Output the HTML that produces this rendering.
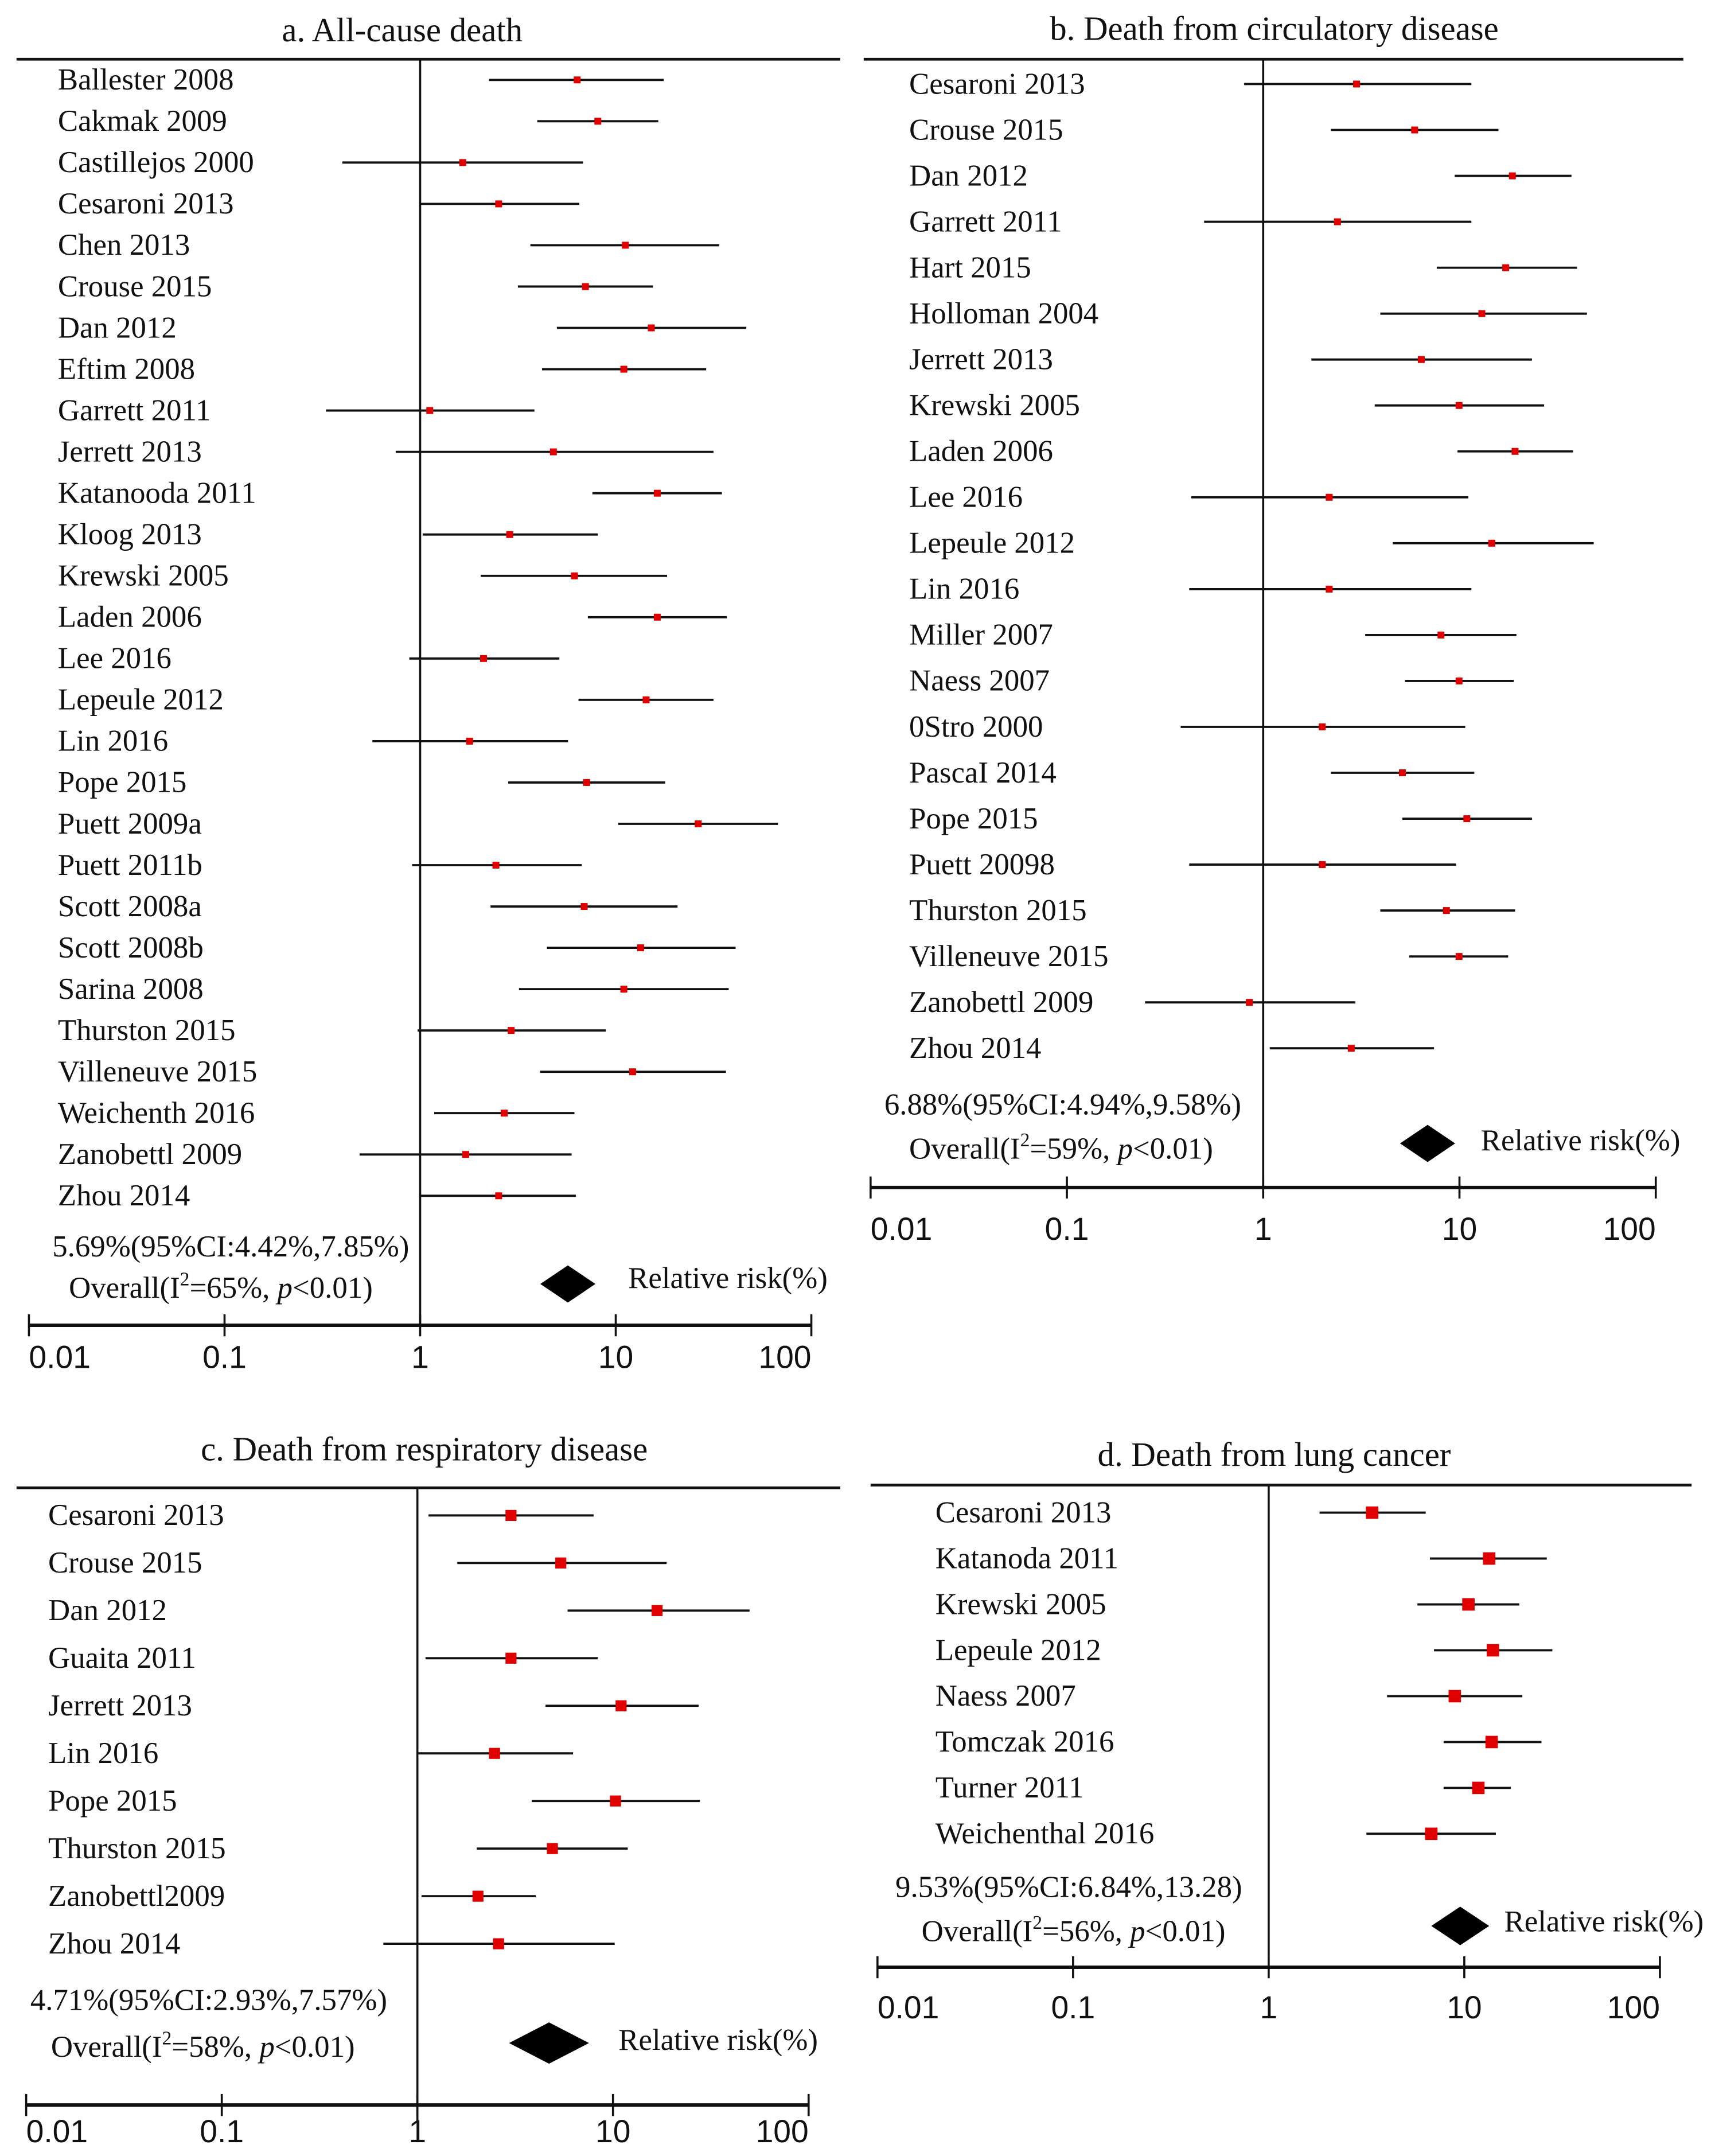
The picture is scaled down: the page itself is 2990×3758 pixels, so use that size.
<!DOCTYPE html>
<html><head><meta charset="utf-8"><style>
html,body{margin:0;padding:0;background:#fff;}
svg{display:block;}
.lbl{font-family:"Liberation Serif",serif;font-size:22px;fill:#111;}
.ttl{font-family:"Liberation Serif",serif;font-size:24.5px;fill:#111;}
.tick{font-family:"Liberation Sans",sans-serif;font-size:23px;fill:#111;}
</style></head><body>
<svg id="chart" width="2990" height="3758" viewBox="0 0 1245 1565" preserveAspectRatio="none" xmlns="http://www.w3.org/2000/svg"></svg>
<script>
// Panel a: All-cause death
const aStudies=["Ballester 2008","Cakmak 2009","Castillejos 2000","Cesaroni 2013","Chen 2013","Crouse 2015","Dan 2012","Eftim 2008","Garrett 2011","Jerrett 2013","Katanooda 2011","Kloog 2013","Krewski 2005","Laden 2006","Lee 2016","Lepeule 2012","Lin 2016","Pope 2015","Puett 2009a","Puett 2011b","Scott 2008a","Scott 2008b","Sarina 2008","Thurston 2015","Villeneuve 2015","Weichenth 2016","Zanobettl 2009","Zhou 2014"];
const aRR=[6.35,8.1,1.65,2.52,11.2,7.0,15.2,11,1.12,4.8,16.3,2.87,6.15,16.3,2.11,14.3,1.79,7.1,26.4,2.44,6.9,13.4,11,2.92,12.2,2.69,1.71,2.52];
const aLow=[2.25,3.97,0.4,1.0,3.66,3.16,5,4.2,0.33,0.75,7.6,1.03,2.04,7.2,0.88,6.45,0.57,2.82,10.3,0.91,2.29,4.45,3.2,0.97,4.1,1.18,0.49,1.0];
const aHigh=[17.6,16.5,6.8,6.5,33.8,15.5,46.5,29,3.84,31.6,34.9,8.1,18.3,37,5.15,31.6,5.7,17.9,67.5,6.7,20.7,41,37.8,8.9,36.6,6.15,5.95,6.25];
// Panel b: circulatory disease
const bStudies=["Cesaroni 2013","Crouse 2015","Dan 2012","Garrett 2011","Hart 2015","Holloman 2004","Jerrett 2013","Krewski 2005","Laden 2006","Lee 2016","Lepeule 2012","Lin 2016","Miller 2007","Naess 2007","0Stro 2000","PascaI 2014","Pope 2015","Puett 20098","Thurston 2015","Villeneuve 2015","Zanobettl 2009","Zhou 2014"];
const bRR=[2.99,5.91,18.6,2.39,17.2,13.0,6.39,9.95,19.2,2.17,14.6,2.17,8.05,9.95,2.0,5.12,10.9,2.0,8.58,9.95,0.85,2.81];
const bLow=[0.8,2.21,9.45,0.5,7.66,3.95,1.76,3.7,9.77,0.43,4.57,0.42,3.31,5.28,0.38,2.21,5.12,0.42,3.95,5.54,0.25,1.08];
const bHigh=[11.5,15.8,37.2,11.5,39.7,44.6,23.4,27.0,37.9,11.1,48.3,11.5,19.5,18.9,10.7,11.9,23.4,9.6,19.2,17.7,2.95,7.42];
// Panel c: respiratory disease
const cStudies=["Cesaroni 2013","Crouse 2015","Dan 2012","Guaita 2011","Jerrett 2013","Lin 2016","Pope 2015","Thurston 2015","Zanobettl2009","Zhou 2014"];
const cRR=[3.01,5.41,16.8,3.01,11.0,2.48,10.3,4.9,2.04,2.6];
const cLow=[1.14,1.6,5.86,1.1,4.52,1.0,3.84,2.01,1.05,0.67];
const cHigh=[7.96,18.8,49.9,8.36,27.4,6.25,27.8,11.9,4.03,10.2];
// Panel d: lung cancer
const dStudies=["Cesaroni 2013","Katanoda 2011","Krewski 2005","Lepeule 2012","Naess 2007","Tomczak 2016","Turner 2011","Weichenthal 2016"];
const dRR=[3.38,13.4,10.5,14.0,8.94,13.8,11.8,6.78];
const dLow=[1.82,6.67,5.76,7.0,4.03,7.84,7.84,3.16];
const dHigh=[6.35,26.4,19.1,28.2,19.8,24.8,17.3,14.5];
const tickVals=[0.01,0.1,1,10,100];
const tickLabels=["0.01","0.1","1","10","100"];
const overallVals=[5.69,6.88,4.71,9.53];
const overallCI=["5.69%(95%CI:4.42%,7.85%)","6.88%(95%CI:4.94%,9.58%)","4.71%(95%CI:2.93%,7.57%)","9.53%(95%CI:6.84%,13.28)"];
const overallI2=["65%","59%","58%","56%"];
const titles=["a. All-cause death","b. Death from circulatory disease","c. Death from respiratory disease","d. Death from lung cancer"];

const svg=document.getElementById('chart');
const NS="http://www.w3.org/2000/svg";
function mk(tag,attrs,parent){const e=document.createElementNS(NS,tag);for(const k in attrs)e.setAttribute(k,attrs[k]);(parent||svg).appendChild(e);return e;}

const layouts=[
 {x1:305,dec:142,top:43,lineL:12,lineR:610,titleX:292,titleY:30,vEnd:962,axisY:962,axisL:21,axisR:589,tickY:993,row0:58,rowStep:30,labelX:42,sq:5,ciX:38,ciY:912,ovX:50,ovY:942,dy:932,dw:40,dh:27,rrX:456,rrY:935},
 {x1:917,dec:142.5,top:43,lineL:627,lineR:1222,titleX:925,titleY:29,vEnd:862,axisY:862,axisL:632,axisR:1202,tickY:900,row0:61,rowStep:33.33,labelX:660,sq:5,ciX:642,ciY:809,ovX:660,ovY:841,dy:830,dw:40,dh:27,rrX:1075,rrY:835},
 {x1:303,dec:142,top:1080,lineL:12,lineR:610,titleX:308,titleY:1060,vEnd:1540,axisY:1528,axisL:19,axisR:587,tickY:1555,row0:1100,rowStep:34.55,labelX:35,sq:8,ciX:22,ciY:1459,ovX:37,ovY:1493,dy:1483,dw:58,dh:30,rrX:449,rrY:1488},
 {x1:921,dec:142,top:1078,lineL:632,lineR:1228,titleX:925,titleY:1064,vEnd:1420,axisY:1428,axisL:637,axisR:1205,tickY:1465,row0:1098,rowStep:33.3,labelX:679,sq:9,ciX:650,ciY:1377,ovX:669,ovY:1409,dy:1398,dw:42,dh:28,rrX:1092,rrY:1402}
];
const panels=[[aStudies,aRR,aLow,aHigh],[bStudies,bRR,bLow,bHigh],[cStudies,cRR,cLow,cHigh],[dStudies,dRR,dLow,dHigh]];
const letters=["a","b","c","d"];

panels.forEach((p,i)=>{
 const L=layouts[i];
 const xs=v=>L.x1+L.dec*Math.log10(v);
 const g=mk('g',{});
 
 
 const t=mk('text',{x:L.titleX,y:L.titleY,'text-anchor':'middle',class:'ttl'},g);
 t.textContent=titles[i];
 
 
 const hl=mk('line',{x1:L.lineL,x2:L.lineR,y1:L.top,y2:L.top,stroke:'#111','stroke-width':2},g);
 
 
 const vl=mk('line',{x1:xs(1),x2:xs(1),y1:L.top,y2:L.vEnd,stroke:'#111','stroke-width':1.5},g);
 
 
 const ax=mk('line',{x1:L.axisL,x2:L.axisR,y1:L.axisY,y2:L.axisY,stroke:'#111','stroke-width':2.5},g);
 
 
 tickVals.forEach((v,k)=>{
  const tk=mk('line',{x1:xs(v),x2:xs(v),y1:L.axisY-8,y2:L.axisY+8,stroke:'#111','stroke-width':1.5},g);
  
  
  const anchor=k===0?'start':(k===tickVals.length-1?'end':'middle');
  const tl=mk('text',{x:xs(v),y:L.tickY,'text-anchor':anchor,class:'tick'},g);
  tl.textContent=tickLabels[k];
  
  
 });
 const [names,rr,lo,hi]=p;
 names.forEach((n,k)=>{
  const y=L.row0+k*L.rowStep;
  const lb=mk('text',{x:L.labelX,y:y+7,class:'lbl'},g);
  lb.textContent=n;
  
  
  const ci=mk('line',{x1:xs(lo[k]),x2:xs(hi[k]),y1:y,y2:y,stroke:'#111','stroke-width':1.6},g);
  
  
  const s=L.sq;
  const sq=mk('rect',{x:xs(rr[k])-s/2,y:y-s/2,width:s,height:s,fill:'#e00000'},g);
  
  
 });
 const ct=mk('text',{x:L.ciX,y:L.ciY,class:'lbl'},g);
 ct.textContent=overallCI[i];
 
 
 const ov=mk('text',{x:L.ovX,y:L.ovY,class:'lbl'},g);
 ov.innerHTML='Overall(I<tspan dy="-9" font-size="14">2</tspan><tspan dy="9">='+overallI2[i]+', </tspan><tspan font-style="italic">p</tspan>&lt;0.01)';
 
 
 const cx=xs(overallVals[i]);
 const dm=mk('polygon',{points:`${cx-L.dw/2},${L.dy} ${cx},${L.dy-L.dh/2} ${cx+L.dw/2},${L.dy} ${cx},${L.dy+L.dh/2}`,fill:'#000'},g);
 
 
 const rt=mk('text',{x:L.rrX,y:L.rrY,class:'lbl'},g);
 rt.textContent='Relative risk(%)';
 
 
});
</script>
</body></html>
